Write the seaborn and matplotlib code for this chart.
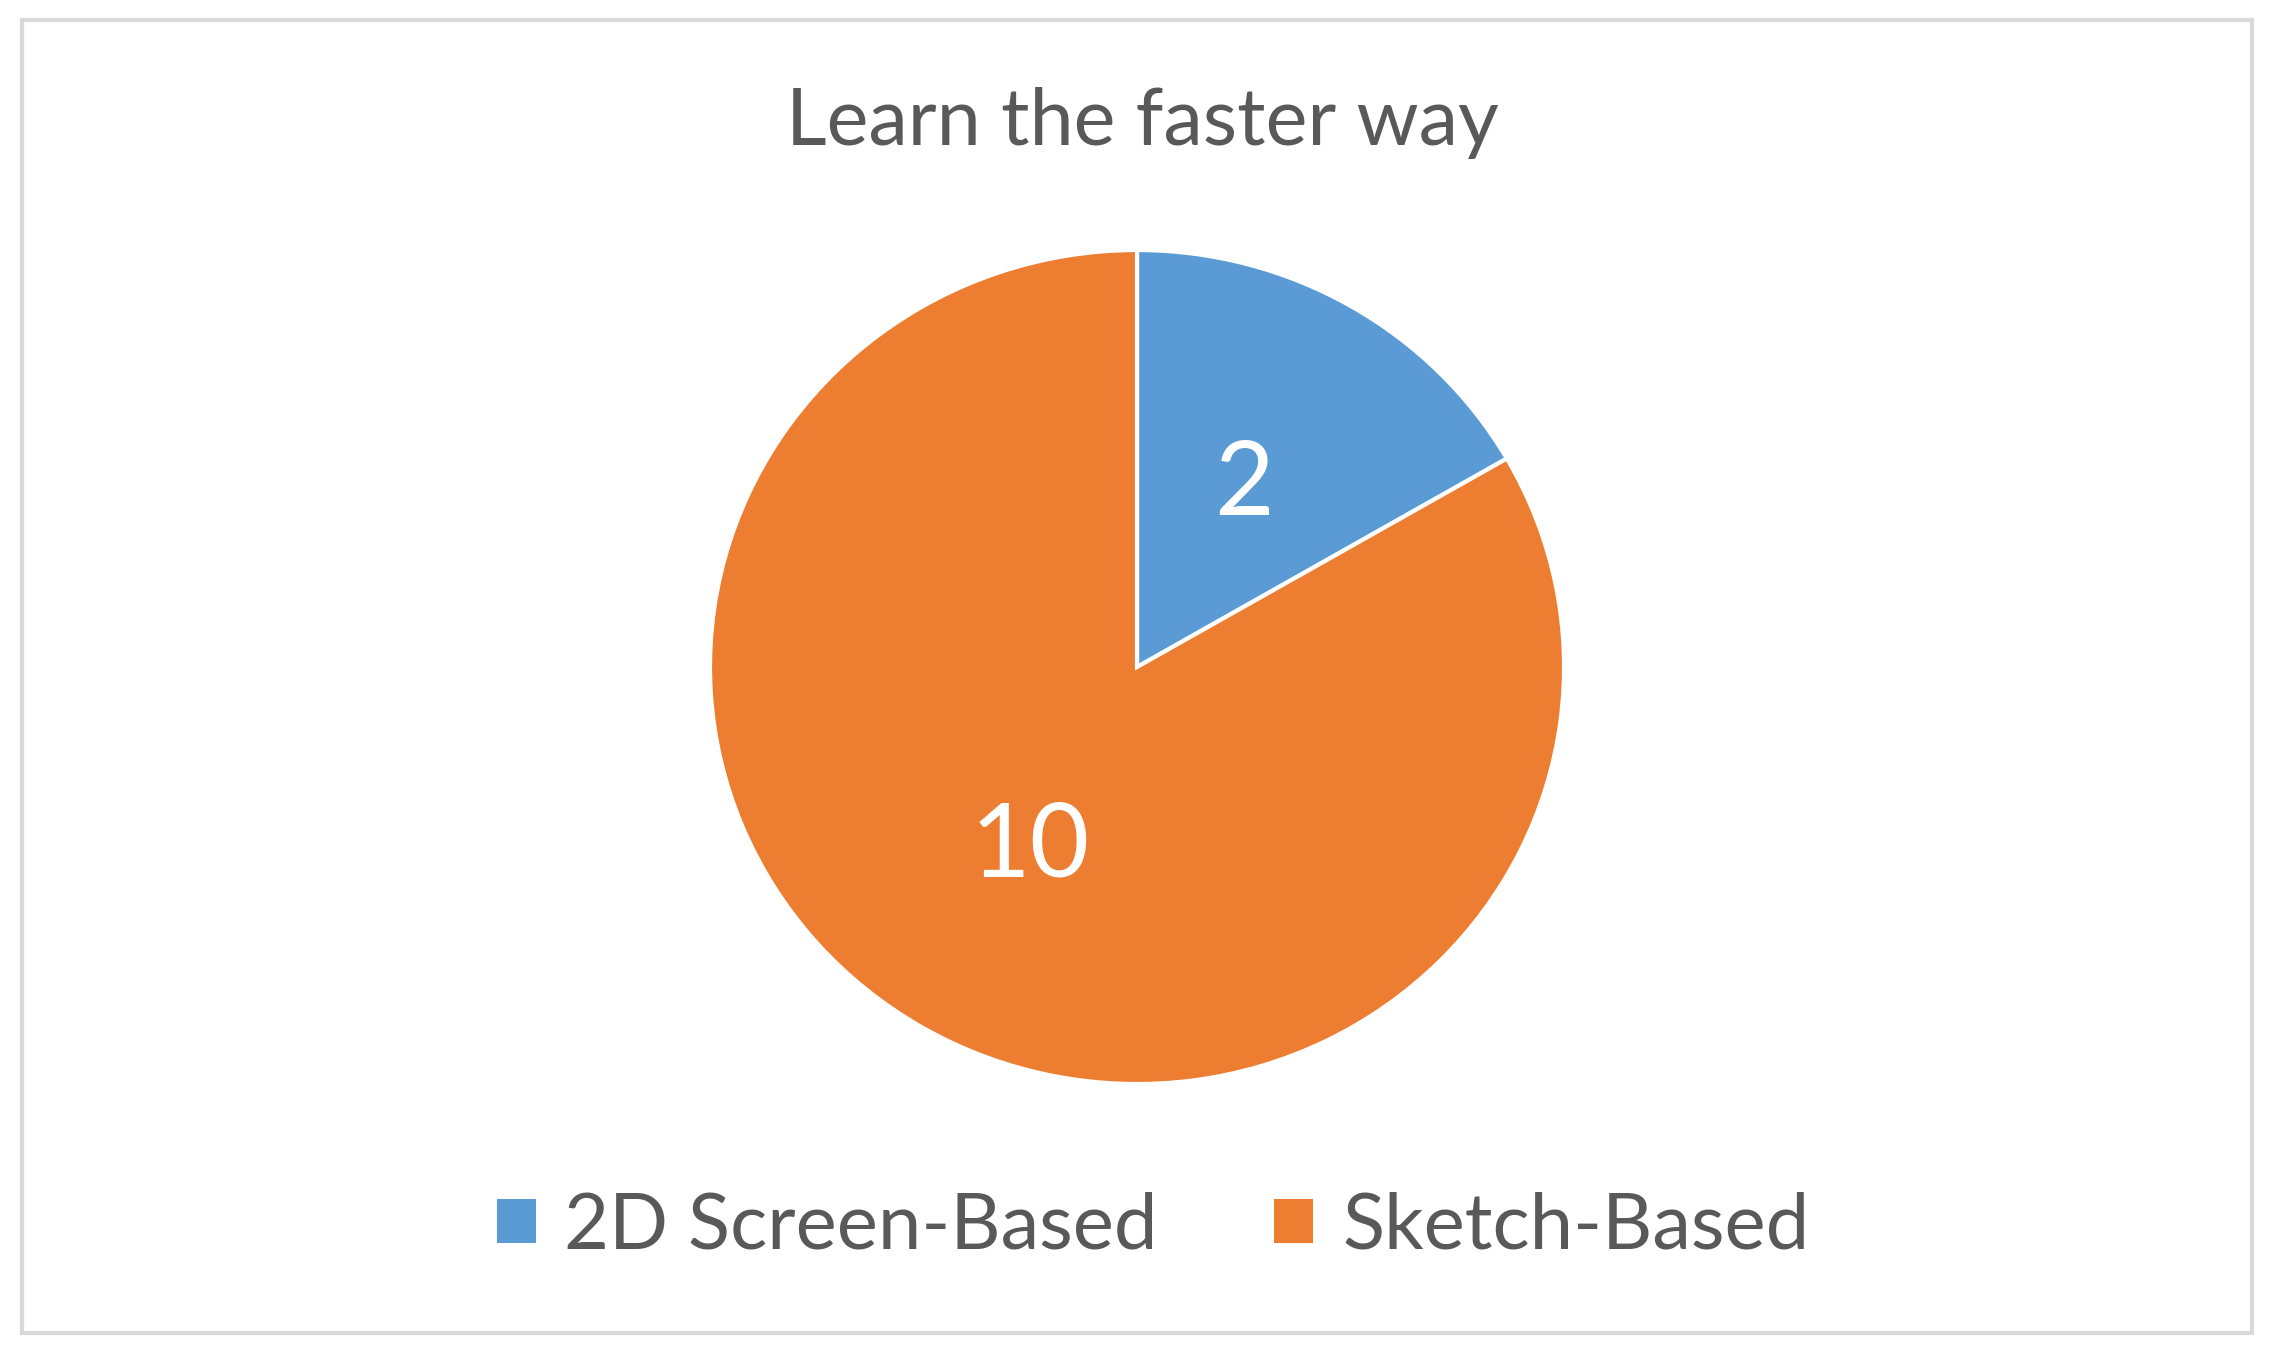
import matplotlib
matplotlib.use("Agg")
import matplotlib.pyplot as plt
import seaborn as sns
from matplotlib.patches import Rectangle, Patch

categories = ["2D Screen-Based", "Sketch-Based"]
values = [2, 10]
title = "Learn the faster way"

sns.set_theme(style="white")
plt.rcParams["font.family"] = ["Lato", "DejaVu Sans"]

colors = sns.color_palette(["#5B9BD5", "#ED7D31"])
text_grey = "#595959"

fig = plt.figure(figsize=(22.72, 13.53), dpi=100)
fig.patch.set_facecolor("white")

# light grey frame around the chart area
fig.patches.append(Rectangle((22 / 2272, 20 / 1353), 2230 / 2272, 1313 / 1353,
                             transform=fig.transFigure, fill=False,
                             edgecolor="#D9D9D9", linewidth=3))

ax = fig.add_axes([0.3125, 0.1988, 0.3759, 0.6164])
total = sum(values)
wedges, _, autotexts = ax.pie(
    values, colors=colors, startangle=90, counterclock=False,
    autopct=lambda p: f"{round(p * total / 100):d}", pctdistance=0.5,
    wedgeprops=dict(edgecolor="white", linewidth=3),
    textprops=dict(color="white", fontsize=74),
)
ax.set_aspect("auto")
ax.set_xlim(-1, 1)
ax.set_ylim(-1, 1)
ax.axis("off")

fig.text(0.503, 0.909, title, ha="center", va="center", fontsize=57, color=text_grey)

handles = [Patch(facecolor=c, edgecolor="none") for c in colors]
fig.legend(handles, categories, loc="center", bbox_to_anchor=(0.5075, 0.093),
           ncol=2, frameon=False, fontsize=56, labelcolor=text_grey,
           handlelength=0.5, handleheight=0.5, handletextpad=0.37,
           columnspacing=1.5)

fig.savefig("out.png", dpi=100, facecolor="white")
